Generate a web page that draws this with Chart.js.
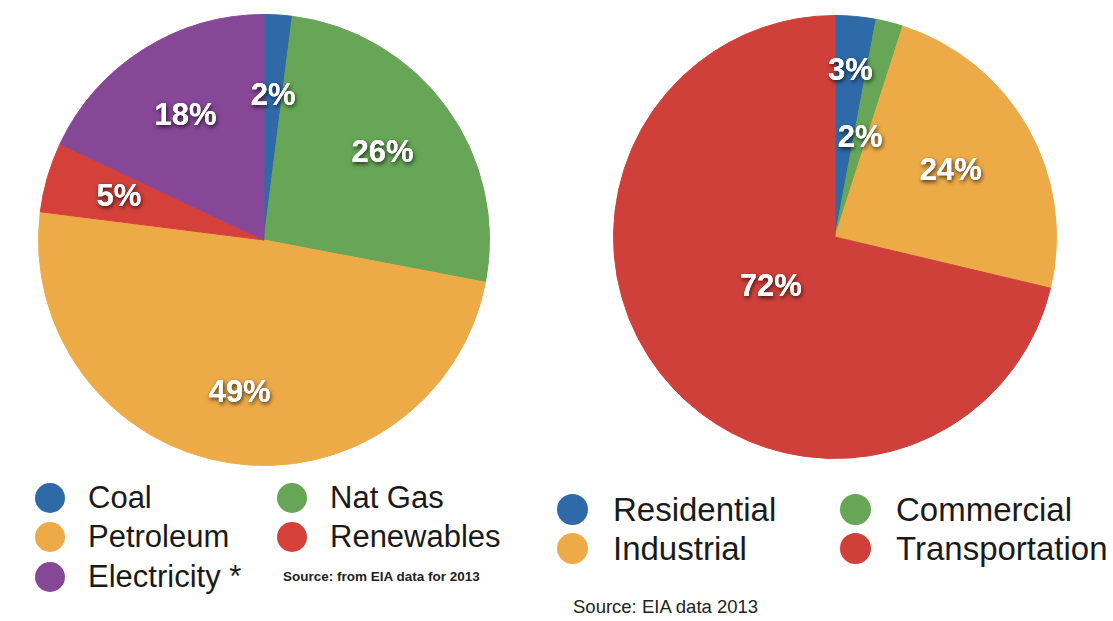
<!DOCTYPE html>
<html>
<head>
<meta charset="utf-8">
<script src="https://cdn.jsdelivr.net/npm/chart.js@4.4.0/dist/chart.umd.min.js"></script>
<style>
    body { margin: 0; background: #fff; font-family: "Liberation Sans", Arial, sans-serif; }
    #wrap { position: relative; width: 1113px; height: 621px; overflow: hidden; }
    canvas { position: absolute; }
    #leftChart { left: 38px; top: 14px; }
    #rightChart { left: 613px; top: 15px; }
    .legend { position: absolute; display: flex; flex-wrap: wrap; color: #1a1a1a; }
    .legend .item { display: flex; align-items: center; white-space: nowrap; }
    .legend .dot { border-radius: 50%; flex: none; }
    #leftLegend { left: 35px; top: 478px; width: 500px; font-size: 31px; }
    #leftLegend .item { width: 242px; height: 39.5px; }
    #leftLegend .dot { width: 30px; height: 30px; margin-right: 23px; }
    #rightLegend { left: 557px; top: 490px; width: 600px; font-size: 33px; }
    #rightLegend .item { width: 283px; height: 39px; }
    #rightLegend .dot { width: 31px; height: 31px; margin-right: 25px; }
    #leftSource { position: absolute; left: 283px; top: 569px; font-size: 13.5px; font-weight: bold; color: #222; }
    #rightSource { position: absolute; left: 573px; top: 596px; font-size: 18.5px; color: #222; }
</style>
</head>
<body>
<div id="wrap">
    <canvas id="leftChart" width="452" height="452"></canvas>
    <canvas id="rightChart" width="444" height="444"></canvas>
    <div id="leftLegend" class="legend"></div>
    <div id="rightLegend" class="legend"></div>
    <div id="leftSource">Source: from EIA data for 2013</div>
    <div id="rightSource">Source: EIA data 2013</div>
</div>
<script>
// energy sources (left pie), clockwise from the top
const sourceLabels = ['Coal', 'Nat Gas', 'Petroleum', 'Renewables', 'Electricity *'];
const sourceValues = [2, 26, 49, 5, 18];
const sourceColors = ['#2f6aa8', '#66a656', '#edab48', '#d6403a', '#874797'];

// end-use sectors (right pie), clockwise from the top
const sectorLabels = ['Residential', 'Commercial', 'Industrial', 'Transportation'];
const sectorValues = [3, 2, 24, 72];
const sectorColors = ['#2f6aa8', '#66a656', '#edab48', '#d0403a'];

// white percent labels with a dark halo, placed inside each slice
const sliceLabels = {
    id: 'sliceLabels',
    afterDatasetsDraw(chart, args, opts) {
        const ctx = chart.ctx;
        const meta = chart.getDatasetMeta(0);
        const values = chart.data.datasets[0].data;
        ctx.save();
        ctx.font = 'bold 31px "Liberation Sans", Arial, sans-serif';
        ctx.textAlign = 'center';
        ctx.textBaseline = 'middle';
        meta.data.forEach((arc, i) => {
            const p = arc.getProps(['x', 'y', 'startAngle', 'endAngle', 'outerRadius'], true);
            const mid = (p.startAngle + p.endAngle) / 2;
            const r = p.outerRadius * opts.radius[i];
            const x = p.x + Math.cos(mid) * r;
            const y = p.y + Math.sin(mid) * r;
            const text = values[i] + '%';
            ctx.shadowColor = 'rgba(0,0,0,0.75)';
            ctx.shadowBlur = 4;
            ctx.shadowOffsetX = 1;
            ctx.shadowOffsetY = 2;
            ctx.fillStyle = '#ffffff';
            ctx.fillText(text, x, y);
            ctx.shadowColor = 'transparent';
            ctx.fillText(text, x, y);
        });
        ctx.restore();
    }
};

function makePie(id, labels, values, colors, radius) {
    const ctx = document.getElementById(id).getContext('2d');
    return new Chart(ctx, {
        type: 'pie',
        data: {
            labels: labels,
            datasets: [{
                data: values,
                backgroundColor: colors,
                borderColor: colors,
                borderWidth: 1
            }]
        },
        options: {
            responsive: false,
            animation: false,
            layout: { padding: 0 },
            plugins: {
                legend: { display: false },
                tooltip: { enabled: false },
                sliceLabels: { radius: radius }
            }
        },
        plugins: [sliceLabels]
    });
}

function makeLegend(id, labels, colors) {
    const box = document.getElementById(id);
    labels.forEach((label, i) => {
        const item = document.createElement('div');
        item.className = 'item';
        const dot = document.createElement('span');
        dot.className = 'dot';
        dot.style.background = colors[i];
        item.appendChild(dot);
        item.appendChild(document.createTextNode(label));
        box.appendChild(item);
    });
}

makePie('leftChart', sourceLabels, sourceValues, sourceColors, [0.64, 0.65, 0.69, 0.67, 0.65]);
makePie('rightChart', sectorLabels, sectorValues, sectorColors, [0.75, 0.46, 0.6, 0.37]);
makeLegend('leftLegend', sourceLabels, sourceColors);
makeLegend('rightLegend', sectorLabels, sectorColors);
</script>
</body>
</html>
